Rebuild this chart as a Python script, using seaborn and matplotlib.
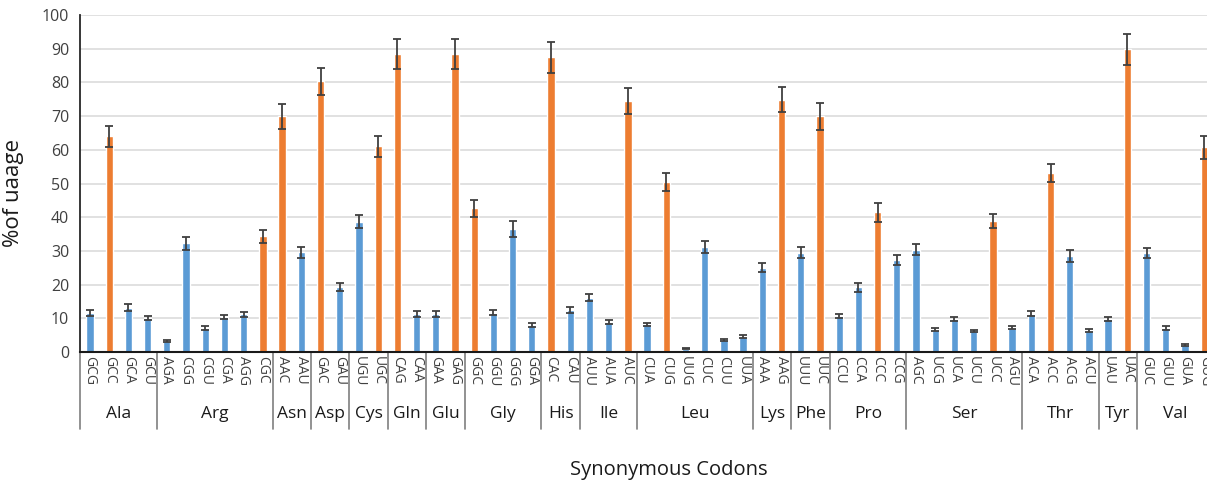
import matplotlib
matplotlib.use("Agg")
import matplotlib.pyplot as plt
import matplotlib.transforms as mtransforms
import seaborn as sns
import pandas as pd

# ---------------- data ----------------
amino_acids = ["Ala", "Arg", "Asn", "Asp", "Cys", "Gln", "Glu", "Gly", "His", "Ile",
               "Leu", "Lys", "Phe", "Pro", "Ser", "Thr", "Tyr", "Val"]
group_codons = [
    ["GCG", "GCC", "GCA", "GCU"],
    ["AGA", "CGG", "CGU", "CGA", "AGG", "CGC"],
    ["AAC", "AAU"],
    ["GAC", "GAU"],
    ["UGU", "UGC"],
    ["CAG", "CAA"],
    ["GAA", "GAG"],
    ["GGC", "GGU", "GGG", "GGA"],
    ["CAC", "CAU"],
    ["AUU", "AUA", "AUC"],
    ["CUA", "CUG", "UUG", "CUC", "CUU", "UUA"],
    ["AAA", "AAG"],
    ["UUU", "UUC"],
    ["CCU", "CCA", "CCC", "CCG"],
    ["AGC", "UCG", "UCA", "UCU", "UCC", "AGU"],
    ["ACA", "ACC", "ACG", "ACU"],
    ["UAU", "UAC"],
    ["GUC", "GUU", "GUA", "GUG"],
]
usage = [
    11.6, 64.0, 13.2, 10.1,
    3.3, 32.2, 7.1, 10.4, 11.2, 34.3,
    69.9, 29.6,
    80.4, 19.3,
    38.7, 61.0,
    88.4, 11.3,
    11.3, 88.4,
    42.6, 11.7, 36.4, 7.9,
    87.4, 12.4,
    16.1, 8.9, 74.4,
    8.2, 50.5, 1.0, 31.2, 3.5, 4.5,
    25.0, 74.9,
    29.5, 69.9,
    10.7, 19.2, 41.5, 27.3,
    30.4, 6.6, 9.7, 6.2, 38.9, 7.2,
    11.4, 53.0, 28.5, 6.3,
    9.9, 89.9,
    29.4, 7.1, 2.2, 60.7,
]
usage_err = [
    0.8, 3.1, 1.0, 0.7,
    0.3, 1.9, 0.6, 0.6, 0.7, 2.0,
    3.6, 1.6,
    4.0, 1.3,
    2.0, 3.1,
    4.5, 0.9,
    0.9, 4.4,
    2.6, 0.8, 2.4, 0.6,
    4.5, 0.9,
    1.0, 0.5, 3.8,
    0.5, 2.7, 0.2, 1.8, 0.3, 0.4,
    1.3, 3.7,
    1.7, 3.9,
    0.6, 1.3, 2.8, 1.5,
    1.6, 0.4, 0.6, 0.4, 2.1, 0.5,
    0.8, 2.7, 1.8, 0.4,
    0.6, 4.6,
    1.5, 0.6, 0.3, 3.3,
]
preferred = ["GCC", "CGC", "AAC", "GAC", "UGC", "CAG", "GAG", "GGC", "CAC", "AUC",
             "CUG", "AAG", "UUC", "CCC", "UCC", "ACC", "UAC", "GUG"]
yticks = list(range(0, 101, 10))

codons = [c for g in group_codons for c in g]
df = pd.DataFrame({
    "codon": codons,
    "usage": usage,
    "err": usage_err,
    "kind": ["pref" if c in preferred else "other" for c in codons],
})

# ---------------- style ----------------
sns.set_theme(style="white")
plt.rcParams["font.family"] = ["Open Sans", "DejaVu Sans"]

BLUE = "#5B9BD5"
ORANGE = "#ED7D31"

W, H = 1207, 487
fig = plt.figure(figsize=(W / 100, H / 100), dpi=100)
ax_left, ax_right = 80.4, 80.4 + 59 * 19.21
ax_top, ax_bot = 15, 352
ax = fig.add_axes([ax_left / W, (H - ax_bot) / H, (ax_right - ax_left) / W, (ax_bot - ax_top) / H])

sns.barplot(data=df, x="codon", y="usage", hue="kind", order=codons,
            palette={"pref": ORANGE, "other": BLUE}, dodge=False, width=0.38,
            errorbar=None, legend=False, ax=ax, saturation=1)

ax.errorbar(range(len(codons)), df["usage"], yerr=df["err"], fmt="none",
            ecolor="#404040", elinewidth=1.3, capsize=3.2, capthick=1.3, zorder=4)

ax.set_xlim(-0.5, len(codons) - 0.5)
ax.set_ylim(0, 100)
ax.set_yticks(yticks)
ax.set_yticklabels([str(t) for t in yticks], fontsize=11.5, color="#404040")
ax.yaxis.grid(True, color="#D9D9D9", linewidth=1.1)
ax.set_axisbelow(True)
for s in ["top", "right"]:
    ax.spines[s].set_visible(False)
ax.spines["left"].set_color("#262626")
ax.spines["left"].set_linewidth(1.3)
ax.spines["bottom"].set_color("#1a1a1a")
ax.spines["bottom"].set_linewidth(1.5)
ax.tick_params(axis="both", length=0)
ax.tick_params(axis="y", pad=8)
ax.tick_params(axis="x", pad=3)
ax.set_xticks(range(len(codons)))
ax.set_xticklabels(codons, rotation=270, fontsize=10, color="#404040", va="top", ha="center")

ax.set_xlabel("")
ax.set_ylabel("%of uaage", fontsize=16, color="#1a1a1a", labelpad=12)
ax.yaxis.set_label_coords(-(80.4 - 24) / (ax_right - ax_left), (ax_bot - 193) / (ax_bot - ax_top))

# group separators and labels
trans = mtransforms.blended_transform_factory(ax.transData, ax.transAxes)
h_ax = ax_bot - ax_top
sep_bottom = -(429 - ax_bot) / h_ax
lab_y = -(414 - ax_bot) / h_ax
start = 0
bounds = [-0.5]
for name, g in zip(amino_acids, group_codons):
    end = start + len(g)
    bounds.append(end - 0.5)
    ax.text((start + end - 1) / 2, lab_y, name, transform=trans, ha="center", va="center",
            fontsize=12.5, color="#1a1a1a")
    start = end
for b in bounds:
    ax.plot([b, b], [0, sep_bottom], transform=trans, color="#7f7f7f", linewidth=1.2, clip_on=False)

fig.text(669 / W, 1 - 470 / H, "Synonymous Codons", ha="center", va="center",
         fontsize=14.5, color="#1a1a1a")

fig.savefig("out.png", dpi=100)
